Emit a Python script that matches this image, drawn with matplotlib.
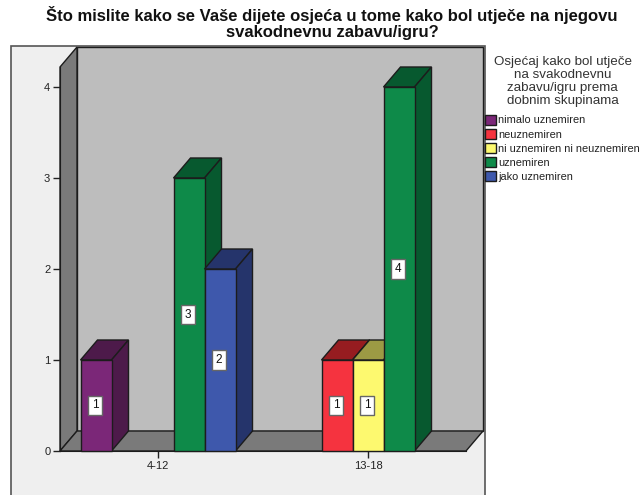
import matplotlib
matplotlib.use("Agg")
import matplotlib.pyplot as plt
from matplotlib.patches import Polygon, Rectangle

plt.rcParams['font.family'] = ['Liberation Sans', 'DejaVu Sans']

title = "Što mislite kako se Vaše dijete osjeća u tome kako bol utječe na njegovu\nsvakodnevnu zabavu/igru?"
legend_title = "Osjećaj kako bol utječe\nna svakodnevnu\nzabavu/igru prema\ndobnim skupinama"
groups = ["4-12", "13-18"]
series = ["nimalo uznemiren", "neuznemiren", "ni uznemiren ni neuznemiren", "uznemiren", "jako uznemiren"]
values = [[1, 0], [0, 1], [0, 1], [3, 4], [2, 0]]
front_colors = ["#7b2778", "#f5333f", "#fdf96f", "#0e8a49", "#3e58ac"]
top_colors = ["#4d1a4a", "#961c20", "#9c9a44", "#07592f", "#25346b"]
side_colors = ["#4d1a4a", "#961c20", "#9c9a44", "#07592f", "#25346b"]

W, H = 642, 495
fig = plt.figure(figsize=(W / 100, H / 100), dpi=100, facecolor="white")

# outer chart frame runs off the bottom of the image
fig.add_artist(Rectangle((11 / W, -0.02), 474 / W, (H - 46) / H + 0.02, transform=fig.transFigure,
                         facecolor="#efefef", edgecolor="#555555", lw=1.2, zorder=-1))

ax = fig.add_axes([60 / W, (H - 451) / H, 406 / W, 384 / H])
px_x = 210.0  # pixels per category
px_y = 91.0  # pixels per value unit
ax.set_xlim(-98 / px_x, 308 / px_x)
ax.set_ylim(0, 384 / px_y)
ax.patch.set_visible(False)
dx = 17 / px_x
dy = 20 / px_y
x0, x1 = ax.get_xlim()
ytop = ax.get_ylim()[1]
edge = "#1c1c1c"

# back wall, left wall, floor
ax.add_patch(Polygon([(x0 + dx, dy), (x1 + dx, dy), (x1 + dx, ytop + dy), (x0 + dx, ytop + dy)],
                     facecolor="#bdbdbd", edgecolor=edge, lw=1, clip_on=False, zorder=1))
ax.add_patch(Polygon([(x0, 0), (x0 + dx, dy), (x0 + dx, ytop + dy), (x0, ytop)],
                     facecolor="#7a7a7a", edgecolor=edge, lw=1, clip_on=False, zorder=1))
ax.add_patch(Polygon([(x0, 0), (x1, 0), (x1 + dx, dy), (x0 + dx, dy)],
                     facecolor="#7a7a7a", edgecolor=edge, lw=1, clip_on=False, zorder=1))

bar_w = 31 / px_x
handles = []
z = 3
for i, name in enumerate(series):
    handles.append(Rectangle((0, 0), 1, 1, facecolor=front_colors[i], edgecolor=edge, lw=1))
    for g in range(len(groups)):
        v = values[i][g]
        if v == 0:
            continue
        left = g + (i - 2) * bar_w - bar_w / 2
        right = left + bar_w
        ax.bar(left, v, width=bar_w, align="edge", color=front_colors[i], edgecolor=edge, lw=1,
               clip_on=False, zorder=z + 0.2)
        ax.add_patch(Polygon([(left, v), (right, v), (right + dx, v + dy), (left + dx, v + dy)],
                             facecolor=top_colors[i], edgecolor=edge, lw=1, clip_on=False, zorder=z))
        ax.add_patch(Polygon([(right, 0), (right + dx, dy), (right + dx, v + dy), (right, v)],
                             facecolor=side_colors[i], edgecolor=edge, lw=1, clip_on=False, zorder=z))
        ax.text(left + bar_w / 2 - 1 / px_x, v / 2, str(v), ha="center", va="center", fontsize=8.5, color="#111111",
                zorder=20, bbox=dict(boxstyle="square,pad=0.3", facecolor="white", edgecolor="#666666", lw=1))
    z += 1

for s in ["top", "right"]:
    ax.spines[s].set_visible(False)
for s in ["left", "bottom"]:
    ax.spines[s].set_color(edge)
    ax.spines[s].set_zorder(2)
ax.set_yticks([0, 1, 2, 3, 4])
ax.set_xticks([0, 1])
ax.set_xticklabels(groups)
ax.tick_params(axis="both", labelsize=8, length=5, width=1, color="#222222", labelcolor="#222222", pad=2)

fig.text(332 / W, 1 - 23 / H, title, ha="center", va="center", fontsize=12, fontweight="bold",
         color="#111111", linespacing=1.12)

leg = fig.legend(handles, series, loc="upper left", bbox_to_anchor=(483 / W, 1 - 54 / H),
                 bbox_transform=fig.transFigure, frameon=False, fontsize=7.9, title=legend_title,
                 title_fontsize=9.6, handlelength=1.0, handleheight=1.0, handletextpad=0.2,
                 labelspacing=0.31, borderpad=0.2, borderaxespad=0)
leg._legend_box.sep = 5.3
leg.get_title().set_color("#333333")
leg.get_title().set_ha("center")
leg.get_title().set_linespacing(1.12)
for t in leg.get_texts():
    t.set_color("#222222")

fig.savefig("out.png", dpi=100)
